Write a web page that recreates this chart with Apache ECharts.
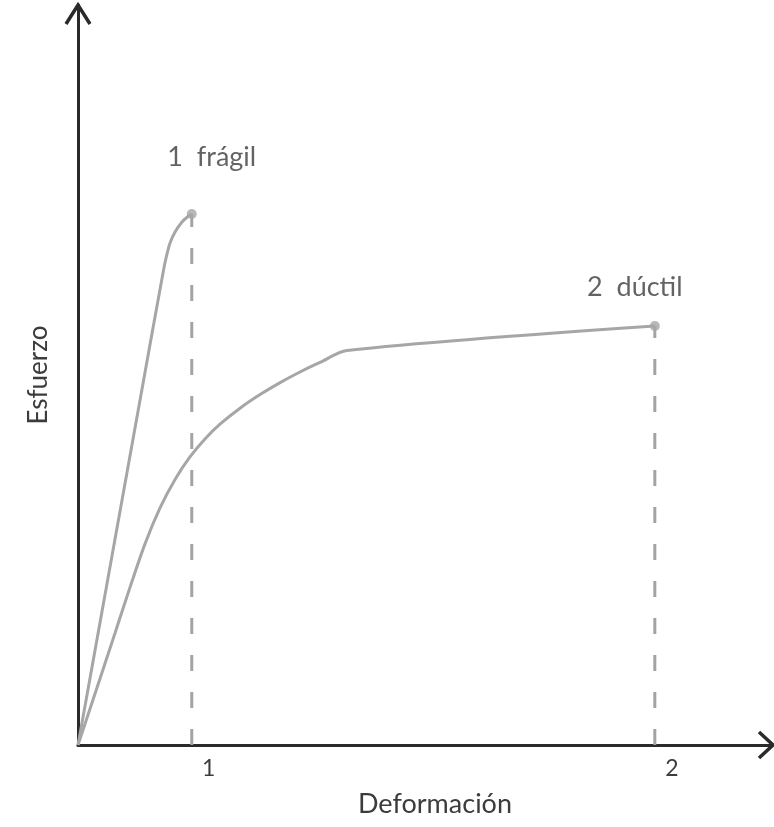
<!DOCTYPE html>
<html>
<head>
<meta charset="utf-8">
<script src="https://cdn.jsdelivr.net/npm/echarts@6/dist/echarts.min.js"></script>
<style>
html,body{margin:0;padding:0;background:#ffffff;}
#chart{width:774px;height:827px;}
</style>
</head>
<body>
<div id="chart"></div>
<script>
// ---- Data ----
var xMax = 6.1;
var yMax = 100;
var xTickValues = [1, 5.07];
var xTickLabels = ['1', '2'];
var xAxisName = 'Deformación';
var yAxisName = 'Esfuerzo';

// Curve 1: brittle material [deformation, stress]
var fragil = [
  [0, 0], [0.545, 46.6], [0.752, 64.19], [0.778, 66.08], [0.809, 67.84], [0.853, 69.32],
  [0.914, 70.68], [0.967, 71.42], [1.0, 71.76]
];
// Curve 2: ductile material
var ductil = [
  [0, 0], [0.325, 15.1], [0.457, 21.30], [0.589, 27.18], [0.721, 32.04], [0.853, 35.89],
  [0.984, 38.93], [1.116, 41.36], [1.248, 43.35], [1.424, 45.51], [1.600, 47.35],
  [1.776, 48.97], [1.951, 50.41], [2.127, 51.70], [2.364, 53.31], [5.07, 56.62]
];
var fragilLabel = '1  frágil';
var ductilLabel = '2  dúctil';

// ---- Chart ----
var FONT = 'Lato';
var curveColor = '#a6a6a6';
var textColor = '#3c3c3c';
var axisColor = '#2a2a2a';

var endF = fragil[fragil.length - 1];
var endD = ductil[ductil.length - 1];

var chart = echarts.init(document.getElementById('chart'), null, {renderer: 'canvas'});
var option = {
  backgroundColor: '#ffffff',
  animation: false,
  grid: {left: 78, right: 2, top: 5, bottom: 82, containLabel: false},
  xAxis: {
    type: 'value', min: 0, max: xMax,
    name: xAxisName, nameLocation: 'middle', nameGap: 46,
    nameTextStyle: {fontFamily: FONT, fontSize: 27, color: textColor, padding: [0, 0, 0, 20]},
    axisLine: {show: true, onZero: false, lineStyle: {color: axisColor, width: 3}},
    axisTick: {show: false},
    splitLine: {show: false},
    axisLabel: {
      show: true, customValues: xTickValues, margin: 12,
      fontFamily: FONT, fontSize: 23, color: textColor, padding: [0, 0, 0, 34],
      formatter: function (v) {
        for (var i = 0; i < xTickValues.length; i++) {
          if (Math.abs(xTickValues[i] - v) < 1e-6) return xTickLabels[i];
        }
        return '';
      }
    }
  },
  yAxis: {
    type: 'value', min: 0, max: yMax,
    name: yAxisName, nameLocation: 'middle', nameGap: 26,
    nameTextStyle: {fontFamily: FONT, fontSize: 26, color: textColor},
    axisLine: {show: true, onZero: false, lineStyle: {color: axisColor, width: 3}},
    axisTick: {show: false},
    axisLabel: {show: false},
    splitLine: {show: false}
  },
  series: [
    {
      type: 'line', data: [[endF[0], 0], [endF[0], endF[1]]], symbol: 'none',
      lineStyle: {color: '#a3a3a3', width: 3, type: [16, 21]}, z: 1
    },
    {
      type: 'line', data: [[endD[0], 0], [endD[0], endD[1]]], symbol: 'none',
      lineStyle: {color: '#a3a3a3', width: 3, type: [16, 21]}, z: 1
    },
    {
      type: 'line', data: fragil, symbol: 'none', smooth: 0.3,
      lineStyle: {color: curveColor, width: 3}, z: 2
    },
    {
      type: 'line', data: ductil, symbol: 'none', smooth: 0.3,
      lineStyle: {color: curveColor, width: 3}, z: 2
    },
    {
      type: 'scatter', symbol: 'circle', symbolSize: 10, z: 3,
      itemStyle: {color: curveColor},
      data: [
        {value: endF, label: {show: true, formatter: fragilLabel, position: 'top', distance: 5, offset: [20, -33]}},
        {value: endD, label: {show: true, formatter: ductilLabel, position: 'top', distance: 5, offset: [-20, -15]}}
      ],
      label: {fontFamily: FONT, fontSize: 27, color: textColor}
    }
  ]
};
chart.setOption(option);

// Open chevron arrow heads at the axis ends
var xEnd = chart.convertToPixel({gridIndex: 0}, [xMax, 0]);
var yEnd = chart.convertToPixel({gridIndex: 0}, [0, yMax]);
chart.setOption({
  graphic: [
    {type: 'polyline', z: 10, shape: {points: [[xEnd[0] - 13, xEnd[1] - 13], [xEnd[0] + 1, xEnd[1]], [xEnd[0] - 13, xEnd[1] + 13]]},
      style: {stroke: axisColor, lineWidth: 3.5, fill: null, lineJoin: 'miter'}},
    {type: 'polyline', z: 10, shape: {points: [[yEnd[0] - 12, yEnd[1] + 19], [yEnd[0], yEnd[1]], [yEnd[0] + 12, yEnd[1] + 19]]},
      style: {stroke: axisColor, lineWidth: 3.5, fill: null, lineJoin: 'miter'}}
  ]
});
</script>
</body>
</html>
